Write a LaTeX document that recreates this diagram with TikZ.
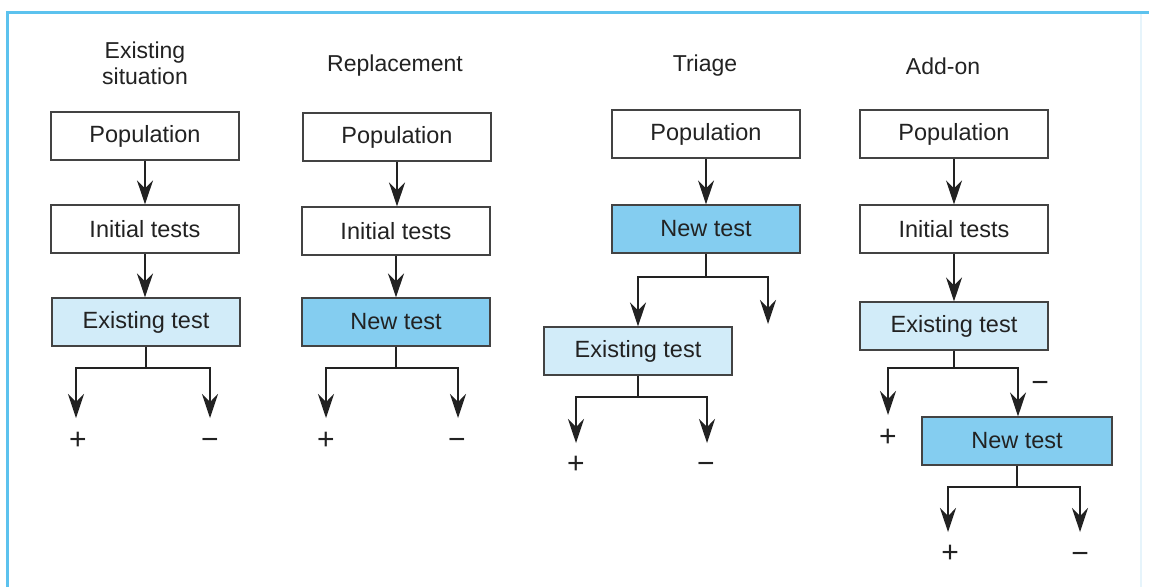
\documentclass[tikz,border=0pt]{standalone}
\usepackage{fontspec}
\setmainfont{Liberation Sans}
\usetikzlibrary{arrows.meta}
\definecolor{frameblue}{HTML}{5CC2EE}
\definecolor{faintblue}{HTML}{E6F4FB}
\definecolor{paleblue}{HTML}{D2ECF9}
\definecolor{midblue}{HTML}{84CDF0}
\definecolor{ink}{HTML}{222222}
\tikzset{
  box/.style={draw=ink!85, line width=1.1pt, minimum width=188pt, minimum height=48pt,
    inner sep=0pt, font=\fontsize{23.5}{26}\selectfont, text=ink},
  oldtest/.style={box, fill=paleblue},
  newtest/.style={box, fill=midblue},
  ttl/.style={font=\fontsize{23}{26}\selectfont, text=ink, align=center},
  sgn/.style={font=\fontsize{30}{32}\selectfont, text=ink},
  link/.style={draw=ink, line width=1.4pt},
  arr/.style={link, -{Stealth[length=24pt,width=16pt,inset=8pt]}},
}
\begin{document}
\begin{tikzpicture}[x=1pt,y=-1pt]
\useasboundingbox (0,0) rectangle (1149,587);
\fill[white] (0,0) rectangle (1149,587);
% frame
\draw[faintblue, line width=1.5pt] (1141,14) -- (1141,587);
\draw[frameblue, line width=3pt] (7,587) -- (7,12) -- (1149,12);

% ---- column 1: Existing situation
\node[ttl] (t1) at (145,63) {Existing\\situation};
\node[box] (p1) at (145,136) {Population};
\node[box] (i1) at (145,229) {Initial tests};
\node[oldtest] (e1) at (146,322) {Existing test};
\draw[arr] (p1.south) -- (p1.south |- i1.north);
\draw[arr] (i1.south) -- (i1.south |- e1.north);
\coordinate (e1j) at (146,368);
\coordinate (e1l) at (76,368);
\coordinate (e1r) at (210,368);
\coordinate (e1la) at (76,418);
\coordinate (e1ra) at (210,418);
\draw[link] (e1.south) -- (e1j);
\draw[arr] (e1j) -- (e1l) -- (e1la);
\draw[arr] (e1j) -- (e1r) -- (e1ra);
\node[sgn] (pl1) at (78,441) {+};
\node[sgn] (mi1) at (210,444) {−};

% ---- column 2: Replacement
\node[ttl] (t2) at (395,66) {Replacement};
\node[box] (p2) at (397,137) {Population};
\node[box] (i2) at (396,231) {Initial tests};
\node[newtest] (n2) at (396,322) {New test};
\draw[arr] (p2.south) -- (p2.south |- i2.north);
\draw[arr] (i2.south) -- (i2.south |- n2.north);
\coordinate (n2j) at (396,368);
\coordinate (n2l) at (326,368);
\coordinate (n2r) at (458,368);
\coordinate (n2la) at (326,418);
\coordinate (n2ra) at (458,418);
\draw[link] (n2.south) -- (n2j);
\draw[arr] (n2j) -- (n2l) -- (n2la);
\draw[arr] (n2j) -- (n2r) -- (n2ra);
\node[sgn] (pl2) at (326,441) {+};
\node[sgn] (mi2) at (457,444) {−};

% ---- column 3: Triage
\node[ttl] (t3) at (705,66) {Triage};
\node[box] (p3) at (706,134) {Population};
\node[newtest] (n3) at (706,229) {New test};
\node[oldtest] (e3) at (638,351) {Existing test};
\draw[arr] (p3) -- (n3);
\coordinate (n3j) at (706,277);
\coordinate (n3l) at (638,277);
\coordinate (n3r) at (768,277);
\coordinate (n3ra) at (768,324);
\draw[link] (n3.south) -- (n3j);
\draw[arr] (n3j) -- (n3l) -- (e3.north);
\draw[arr] (n3j) -- (n3r) -- (n3ra);
\coordinate (e3j) at (638,397);
\coordinate (e3l) at (576,397);
\coordinate (e3r) at (707,397);
\coordinate (e3la) at (576,443);
\coordinate (e3ra) at (707,443);
\draw[link] (e3.south) -- (e3j);
\draw[arr] (e3j) -- (e3l) -- (e3la);
\draw[arr] (e3j) -- (e3r) -- (e3ra);
\node[sgn] (pl3) at (576,465) {+};
\node[sgn] (mi3) at (706,468) {−};

% ---- column 4: Add-on
\node[ttl] (t4) at (943,66) {Add-on};
\node[box] (p4) at (954,134) {Population};
\node[box] (i4) at (954,229) {Initial tests};
\node[oldtest] (e4) at (954,326) {Existing test};
\node[newtest, minimum width=190pt] (n4) at (1017,441) {New test};
\draw[arr] (p4) -- (i4);
\draw[arr] (i4) -- (e4);
\coordinate (e4j) at (954,368);
\coordinate (e4l) at (888,368);
\coordinate (e4r) at (1018,368);
\coordinate (e4la) at (888,415);
\draw[link] (e4.south) -- (e4j);
\draw[arr] (e4j) -- (e4l) -- (e4la);
\draw[arr] (e4j) -- (e4r) -- (e4r |- n4.north);
\node[sgn] (pl4) at (888,438) {+};
\node[sgn] (mi4) at (1040,387) {−};
\coordinate (n4j) at (1017,487);
\coordinate (n4l) at (948,487);
\coordinate (n4r) at (1080,487);
\coordinate (n4la) at (948,532);
\coordinate (n4ra) at (1080,532);
\draw[link] (n4.south) -- (n4j);
\draw[arr] (n4j) -- (n4l) -- (n4la);
\draw[arr] (n4j) -- (n4r) -- (n4ra);
\node[sgn] (pl5) at (950,554) {+};
\node[sgn] (mi5) at (1080,558) {−};
\end{tikzpicture}
\end{document}
